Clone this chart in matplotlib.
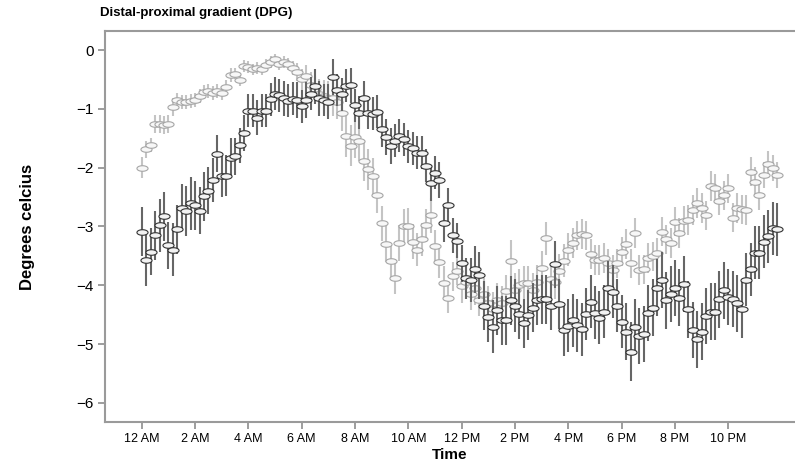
import numpy as np
import matplotlib
matplotlib.use("Agg")
import matplotlib.pyplot as plt
from matplotlib.path import Path

plt.rcParams['font.family'] = ['Liberation Sans', 'DejaVu Sans']

# 10-minute bins over one day (hours)
hours = np.arange(144) / 6.0

dark_mean = [
    -3.09, -3.57, -3.43, -3.15, -2.98, -2.83, -3.32, -3.40, -3.05, -2.68, -2.74, -2.61,
    -2.64, -2.73, -2.49, -2.39, -2.21, -1.76, -2.15, -2.14, -1.83, -1.81, -1.62, -1.41,
    -1.03, -1.03, -1.15, -1.03, -1.03, -0.84, -0.74, -0.77, -0.82, -0.86, -0.83,
    -0.85, -0.96, -0.85, -0.74, -0.62, -0.82, -0.85, -0.88, -0.46, -0.68, -0.75, -0.61,
    -0.60, -0.94, -1.07, -0.82, -1.07, -1.08, -1.05, -1.35, -1.48, -1.63, -1.54, -1.46,
    -1.52, -1.64, -1.67, -1.75, -1.75, -1.97, -2.26, -2.09, -2.21, -2.94, -2.64, -3.15,
    -3.24, -3.63,
    -3.88, -3.91, -3.73, -3.83, -4.35, -4.54, -4.71, -4.43, -4.60, -4.60, -4.26, -4.35,
    -4.49, -4.65, -4.51, -4.38, -4.25, -4.24, -4.24, -4.35, -3.64, -4.32, -4.76, -4.69,
    -4.60, -4.68, -4.75, -4.49, -4.28, -4.47, -4.55, -4.45, -4.04, -4.11, -4.35, -4.62,
    -4.79,
    -5.13, -4.71, -4.86, -4.83, -4.47, -4.38, -4.04, -3.91, -4.26, -4.15, -4.05, -4.21,
    -3.98, -4.41, -4.76, -4.92, -4.79, -4.52, -4.45, -4.45, -4.24, -4.09, -4.20, -4.23,
    -4.31, -4.41, -3.91, -3.73, -3.45, -3.45, -3.26, -3.17, -3.03, -3.05,
]

dark_err = [
    0.42, 0.45, 0.40, 0.42, 0.45, 0.42, 0.40, 0.45, 0.42, 0.40, 0.42, 0.45,
    0.42, 0.40, 0.42, 0.40, 0.38, 0.32, 0.35, 0.35, 0.33, 0.32, 0.30, 0.30,
    0.28, 0.28, 0.30, 0.28, 0.28, 0.28, 0.28, 0.28, 0.30, 0.28, 0.28,
    0.30, 0.28, 0.30, 0.28, 0.30, 0.30, 0.28, 0.30, 0.30, 0.28, 0.28, 0.28,
    0.30, 0.28, 0.28, 0.30, 0.28, 0.28, 0.28, 0.30, 0.30, 0.30, 0.28, 0.28,
    0.28, 0.28, 0.28, 0.28, 0.28, 0.28, 0.30, 0.28, 0.30, 0.32, 0.30, 0.30,
    0.30, 0.32,
    0.35, 0.38, 0.40, 0.40, 0.42, 0.42, 0.45, 0.42, 0.42, 0.42, 0.42, 0.45,
    0.42, 0.42, 0.42, 0.42, 0.42, 0.42, 0.42, 0.42, 0.40, 0.42, 0.45, 0.45,
    0.45, 0.45, 0.45, 0.45, 0.45, 0.45, 0.45, 0.45, 0.45, 0.45, 0.45, 0.45,
    0.48,
    0.50, 0.48, 0.48, 0.48, 0.48, 0.48, 0.48, 0.48, 0.48, 0.48, 0.48, 0.48,
    0.48, 0.48, 0.48, 0.48, 0.48, 0.48, 0.48, 0.48, 0.48, 0.48, 0.48, 0.48,
    0.48, 0.48, 0.45, 0.45, 0.45, 0.45, 0.45, 0.45, 0.45, 0.45,
]

light_mean = [
    -2.00, -1.69, -1.62, -1.26, -1.26, -1.28, -1.26, -0.97, -0.85, -0.88, -0.88, -0.86,
    -0.85, -0.78, -0.71, -0.70, -0.73, -0.70, -0.73, -0.63, -0.43, -0.40, -0.51, -0.27,
    -0.29, -0.33, -0.31, -0.33, -0.26, -0.20, -0.16, -0.24, -0.20, -0.24, -0.31, -0.37,
    -0.50, -0.45, -0.60, -0.67, -0.74, -0.79, -0.82, -0.82, -0.88, -1.07, -1.47, -1.63,
    -1.48, -1.54, -1.88, -2.03, -2.15, -2.47, -2.95, -3.30, -3.58, -3.87, -3.28, -3.00,
    -2.99, -3.26, -3.40, -3.22, -2.98, -2.81, -3.34, -3.60, -3.96, -4.22, -3.85, -3.75,
    -4.02,
    -3.95, -4.15, -4.05, -4.25, -4.15, -4.30, -4.40, -4.25, -4.30, -4.10, -3.58, -4.08,
    -4.00, -3.96, -3.96, -4.08, -3.94, -3.70, -3.20, -3.90, -3.95, -3.75, -3.58, -3.40,
    -3.28, -3.15, -3.13, -3.15, -3.47, -3.57, -3.57, -3.54, -3.63, -3.74, -3.63, -3.43,
    -3.30,
    -3.63, -3.11, -3.74, -3.73, -3.54, -3.51, -3.45, -3.09, -3.22, -3.28, -2.92, -3.11,
    -2.90, -2.89, -2.72, -2.60, -2.69, -2.81, -2.31, -2.35, -2.56, -2.47, -2.35, -2.85,
    -2.69, -2.71, -2.72, -2.07, -2.24, -2.47, -2.13, -1.93, -2.00, -2.13,
]

light_err = [
    0.18, 0.15, 0.12, 0.15, 0.15, 0.15, 0.15, 0.15, 0.12, 0.12, 0.12, 0.12,
    0.12, 0.12, 0.12, 0.12, 0.12, 0.12, 0.12, 0.12, 0.12, 0.10, 0.10, 0.10,
    0.10, 0.10, 0.10, 0.10, 0.10, 0.10, 0.10, 0.10, 0.10, 0.10, 0.12, 0.15,
    0.18, 0.20, 0.22, 0.22, 0.25, 0.28, 0.30, 0.30, 0.30, 0.30, 0.35, 0.35,
    0.35, 0.35, 0.35, 0.35, 0.32, 0.30, 0.30, 0.30, 0.28, 0.28, 0.30, 0.30,
    0.30, 0.30, 0.28, 0.28, 0.28, 0.30, 0.28, 0.28, 0.28, 0.25, 0.25, 0.25,
    0.28,
    0.28, 0.28, 0.28, 0.28, 0.28, 0.28, 0.28, 0.28, 0.28, 0.28, 0.35, 0.28,
    0.28, 0.28, 0.28, 0.28, 0.28, 0.28, 0.28, 0.28, 0.28, 0.28, 0.28, 0.28,
    0.25, 0.25, 0.25, 0.25, 0.25, 0.25, 0.25, 0.25, 0.25, 0.25, 0.25, 0.25,
    0.25,
    0.25, 0.25, 0.25, 0.25, 0.25, 0.25, 0.25, 0.25, 0.25, 0.25, 0.25, 0.25,
    0.25, 0.25, 0.25, 0.25, 0.25, 0.25, 0.25, 0.25, 0.25, 0.25, 0.25, 0.25,
    0.25, 0.25, 0.25, 0.25, 0.25, 0.25, 0.22, 0.22, 0.22, 0.22,
]

tick_hours = [0, 2, 4, 6, 8, 10, 12, 14, 16, 18, 20, 22]
tick_labels = ["12 AM", "2 AM", "4 AM", "6 AM", "8 AM", "10 AM",
               "12 PM", "2 PM", "4 PM", "6 PM", "8 PM", "10 PM"]

# flat ellipse marker
theta = np.linspace(0, 2 * np.pi, 40)
ellipse = Path(np.column_stack([np.cos(theta), 0.5 * np.sin(theta)]), closed=True)

fig = plt.figure(figsize=(7.95, 4.66), dpi=100)
ax = fig.add_axes([0.132, 0.094, 0.868, 0.839])

ax.errorbar(hours, light_mean, yerr=light_err, fmt='none', ecolor='#c4c4c4',
            elinewidth=1.5, capsize=0, zorder=1)
ax.plot(hours, light_mean, linestyle='none', marker=ellipse, markersize=8,
        markerfacecolor='#f7f7f7', markeredgecolor='#a6a6a6', markeredgewidth=0.8, zorder=2)

ax.errorbar(hours, dark_mean, yerr=dark_err, fmt='none', ecolor='#666666',
            elinewidth=1.5, capsize=0, zorder=3)
ax.plot(hours, dark_mean, linestyle='none', marker=ellipse, markersize=8,
        markerfacecolor='#f2f2f2', markeredgecolor='#333333', markeredgewidth=0.8, zorder=4)

ax.set_xlim(-1.38, 24.5)
ax.set_ylim(-6.33, 0.32)
ax.set_xticks(tick_hours)
ax.set_xticklabels(tick_labels, fontsize=9)
ax.set_yticks([0, -1, -2, -3, -4, -5, -6])
ax.tick_params(axis='y', labelsize=11)
ax.tick_params(direction='out', length=5, width=1.2, color='#8c8c8c', pad=3)

for side in ['left', 'bottom', 'top']:
    ax.spines[side].set_color('#9a9a9a')
    ax.spines[side].set_linewidth(1.5)
ax.spines['right'].set_visible(False)

ax.set_xlabel("Time", fontsize=11, fontweight='bold', labelpad=2)
ax.set_ylabel("Degrees celcius", fontsize=12, fontweight='bold', labelpad=30)
fig.text(0.126, 0.972, "Distal-proximal gradient (DPG)", fontsize=9.5,
         fontweight='bold', ha='left', va='center')

fig.savefig("out.png", dpi=100)
